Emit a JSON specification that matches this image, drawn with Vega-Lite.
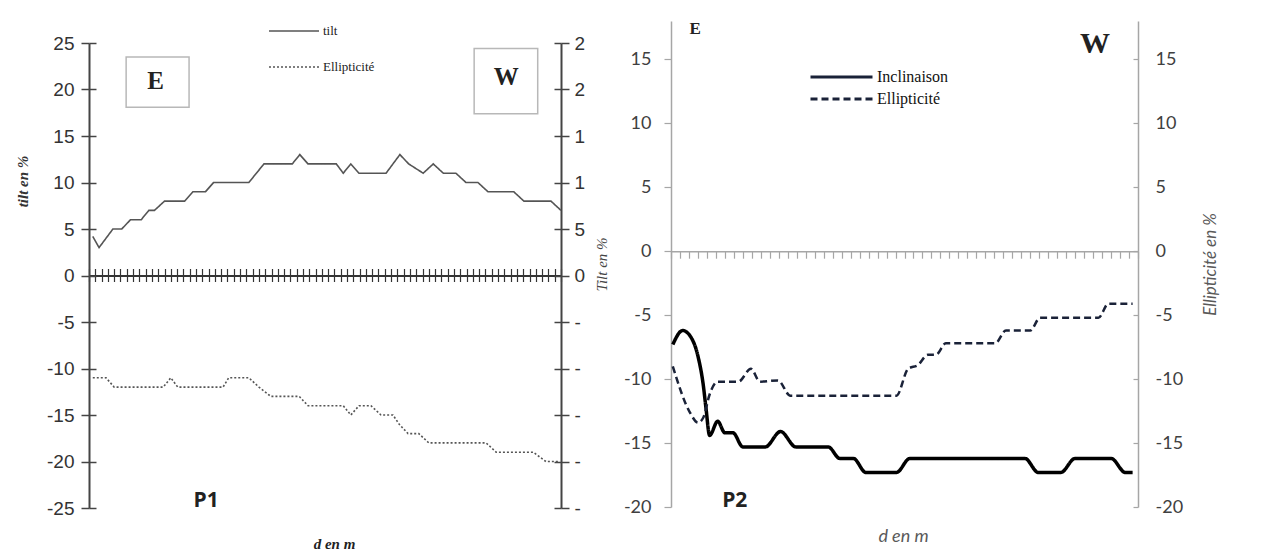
{
  "$schema": "https://vega.github.io/schema/vega-lite/v6.json",
  "background": "white",
  "padding": {"left": 15, "top": 19, "right": 5, "bottom": 5},
  "spacing": 110,
  "bounds": "flush",
  "datasets": {
    "p1tilt": [
      {"d": 0.6, "v": 4.2, "s": "tilt"}, {"d": 1.6, "v": 3, "s": "tilt"}, {"d": 3.8, "v": 5, "s": "tilt"}, {"d": 5.2, "v": 5, "s": "tilt"},
      {"d": 6.6, "v": 6, "s": "tilt"}, {"d": 8.3, "v": 6, "s": "tilt"}, {"d": 9.5, "v": 7, "s": "tilt"}, {"d": 10.4, "v": 7, "s": "tilt"},
      {"d": 12, "v": 8, "s": "tilt"}, {"d": 15.2, "v": 8, "s": "tilt"}, {"d": 16.5, "v": 9, "s": "tilt"}, {"d": 18.5, "v": 9, "s": "tilt"},
      {"d": 19.8, "v": 10, "s": "tilt"}, {"d": 25.4, "v": 10, "s": "tilt"}, {"d": 27.8, "v": 12, "s": "tilt"}, {"d": 32.3, "v": 12, "s": "tilt"},
      {"d": 33.5, "v": 13, "s": "tilt"}, {"d": 34.8, "v": 12, "s": "tilt"}, {"d": 39.3, "v": 12, "s": "tilt"}, {"d": 40.4, "v": 11, "s": "tilt"},
      {"d": 41.6, "v": 12, "s": "tilt"}, {"d": 42.9, "v": 11, "s": "tilt"}, {"d": 47.2, "v": 11, "s": "tilt"}, {"d": 49.4, "v": 13, "s": "tilt"},
      {"d": 50.8, "v": 12, "s": "tilt"}, {"d": 53.1, "v": 11, "s": "tilt"}, {"d": 54.7, "v": 12, "s": "tilt"}, {"d": 56.3, "v": 11, "s": "tilt"},
      {"d": 58.3, "v": 11, "s": "tilt"}, {"d": 59.9, "v": 10, "s": "tilt"}, {"d": 61.8, "v": 10, "s": "tilt"}, {"d": 63.4, "v": 9, "s": "tilt"},
      {"d": 67.5, "v": 9, "s": "tilt"}, {"d": 69.1, "v": 8, "s": "tilt"}, {"d": 73.4, "v": 8, "s": "tilt"}, {"d": 75, "v": 7, "s": "tilt"}
    ],
    "p1ell": [
      {"d": 0.6, "v": -11, "s": "Ellipticité"}, {"d": 2.7, "v": -11, "s": "Ellipticité"}, {"d": 4.0, "v": -12, "s": "Ellipticité"}, {"d": 11.8, "v": -12, "s": "Ellipticité"},
      {"d": 13.0, "v": -11, "s": "Ellipticité"}, {"d": 14.1, "v": -12, "s": "Ellipticité"}, {"d": 21.3, "v": -12, "s": "Ellipticité"}, {"d": 22.2, "v": -11, "s": "Ellipticité"},
      {"d": 25.4, "v": -11, "s": "Ellipticité"}, {"d": 27.0, "v": -12, "s": "Ellipticité"}, {"d": 28.9, "v": -13, "s": "Ellipticité"}, {"d": 33.4, "v": -13, "s": "Ellipticité"},
      {"d": 34.8, "v": -14, "s": "Ellipticité"}, {"d": 40.4, "v": -14, "s": "Ellipticité"}, {"d": 41.6, "v": -15, "s": "Ellipticité"}, {"d": 42.9, "v": -14, "s": "Ellipticité"},
      {"d": 44.8, "v": -14, "s": "Ellipticité"}, {"d": 46.4, "v": -15, "s": "Ellipticité"}, {"d": 48.3, "v": -15, "s": "Ellipticité"}, {"d": 49.3, "v": -16, "s": "Ellipticité"},
      {"d": 50.7, "v": -17, "s": "Ellipticité"}, {"d": 52.4, "v": -17, "s": "Ellipticité"}, {"d": 54.0, "v": -18, "s": "Ellipticité"}, {"d": 63.1, "v": -18, "s": "Ellipticité"},
      {"d": 64.7, "v": -19, "s": "Ellipticité"}, {"d": 70.6, "v": -19, "s": "Ellipticité"}, {"d": 72.6, "v": -20, "s": "Ellipticité"}, {"d": 74.7, "v": -20, "s": "Ellipticité"}
    ],
    "p1boxes": [
      {"x1": 5.9, "x2": 15.9, "y1": 23.5, "y2": 18.1},
      {"x1": 61.2, "x2": 71.3, "y1": 24.4, "y2": 17.4}
    ],
    "p1letters": [
      {"d": 10.6, "v": 20.9, "t": "E"},
      {"d": 66.3, "v": 21.3, "t": "W"}
    ],
    "p1label": [{"d": 18.6, "v": -24.2, "t": "P1"}],
    "p2inc": [
      {"d": 0.2, "v": -7.3, "s": "Inclinaison"}, {"d": 1.3, "v": -6.2, "s": "Inclinaison"}, {"d": 2.2, "v": -6.7, "s": "Inclinaison"}, {"d": 3.0, "v": -8.2, "s": "Inclinaison"},
      {"d": 3.6, "v": -10.5, "s": "Inclinaison"}, {"d": 3.9, "v": -12.3, "s": "Inclinaison"}, {"d": 4.3, "v": -14.4, "s": "Inclinaison"}, {"d": 5.2, "v": -13.3, "s": "Inclinaison"},
      {"d": 6.0, "v": -14.2, "s": "Inclinaison"}, {"d": 6.9, "v": -14.2, "s": "Inclinaison"}, {"d": 8.0, "v": -15.3, "s": "Inclinaison"}, {"d": 10.5, "v": -15.3, "s": "Inclinaison"},
      {"d": 12.2, "v": -14.1, "s": "Inclinaison"}, {"d": 13.9, "v": -15.3, "s": "Inclinaison"}, {"d": 17.5, "v": -15.3, "s": "Inclinaison"}, {"d": 18.8, "v": -16.2, "s": "Inclinaison"},
      {"d": 20.3, "v": -16.2, "s": "Inclinaison"}, {"d": 21.7, "v": -17.3, "s": "Inclinaison"}, {"d": 25.1, "v": -17.3, "s": "Inclinaison"}, {"d": 26.6, "v": -16.2, "s": "Inclinaison"},
      {"d": 39.4, "v": -16.2, "s": "Inclinaison"}, {"d": 40.9, "v": -17.3, "s": "Inclinaison"}, {"d": 43.4, "v": -17.3, "s": "Inclinaison"}, {"d": 45.0, "v": -16.2, "s": "Inclinaison"},
      {"d": 49.0, "v": -16.2, "s": "Inclinaison"}, {"d": 50.6, "v": -17.3, "s": "Inclinaison"}, {"d": 51.4, "v": -17.3, "s": "Inclinaison"}
    ],
    "p2ell": [
      {"d": 0.2, "v": -9.0, "s": "Ellipticité"}, {"d": 2.1, "v": -12.6, "s": "Ellipticité"}, {"d": 3.0, "v": -13.4, "s": "Ellipticité"}, {"d": 3.6, "v": -13.0, "s": "Ellipticité"},
      {"d": 4.3, "v": -11.2, "s": "Ellipticité"}, {"d": 5.2, "v": -10.2, "s": "Ellipticité"}, {"d": 7.5, "v": -10.2, "s": "Ellipticité"}, {"d": 8.9, "v": -9.2, "s": "Ellipticité"},
      {"d": 9.9, "v": -10.2, "s": "Ellipticité"}, {"d": 11.9, "v": -10.1, "s": "Ellipticité"}, {"d": 13.3, "v": -11.3, "s": "Ellipticité"}, {"d": 25.1, "v": -11.3, "s": "Ellipticité"},
      {"d": 26.4, "v": -9.2, "s": "Ellipticité"}, {"d": 27.5, "v": -8.9, "s": "Ellipticité"}, {"d": 28.6, "v": -8.1, "s": "Ellipticité"}, {"d": 29.5, "v": -8.1, "s": "Ellipticité"},
      {"d": 30.6, "v": -7.2, "s": "Ellipticité"}, {"d": 36.1, "v": -7.2, "s": "Ellipticité"}, {"d": 37.3, "v": -6.2, "s": "Ellipticité"}, {"d": 40.0, "v": -6.2, "s": "Ellipticité"},
      {"d": 41.1, "v": -5.2, "s": "Ellipticité"}, {"d": 47.6, "v": -5.2, "s": "Ellipticité"}, {"d": 48.7, "v": -4.1, "s": "Ellipticité"}, {"d": 51.4, "v": -4.1, "s": "Ellipticité"}
    ],
    "p2e": [{"d": 2.7, "v": 17.4, "t": "E"}],
    "p2w": [{"d": 47.2, "v": 16.2, "t": "W"}],
    "p2label": [{"d": 7.1, "v": -19.5, "t": "P2"}]
  },
  "hconcat": [
    {
      "width": 472,
      "height": 488,
      "resolve": {"axis": {"x": "independent", "y": "independent"}},
      "layer": [
        {
          "data": {"name": "p1tilt"},
          "mark": {"type": "line", "color": "#555555", "strokeWidth": 1.6},
          "encoding": {
            "x": {"field": "d", "type": "quantitative", "scale": {"domain": [0, 75], "nice": false, "zero": false},
              "axis": {"orient": "bottom", "offset": -233.5, "tickCount": 75, "labels": false, "tickSize": 6, "tickWidth": 1.2, "tickColor": "#333333", "domainColor": "#333333", "domainWidth": 2,
                "title": "d en m", "titleFont": "Liberation Serif", "titleFontStyle": "italic", "titleFontWeight": "bold", "titleFontSize": 15, "titleColor": "#222222",
                "titleX": 245, "titleY": 268, "titleAlign": "center", "titleBaseline": "middle", "titleAngle": 0}},
            "y": {"field": "v", "type": "quantitative", "scale": {"domain": [-25, 25], "range": [487, 22], "nice": false, "zero": false},
              "axis": {"orient": "left", "values": [-25, -20, -15, -10, -5, 0, 5, 10, 15, 20, 25], "tickSize": 8, "tickWidth": 1.5, "tickColor": "#444444", "domainColor": "#444444", "domainWidth": 2,
                "labelFont": "Liberation Sans", "labelFontSize": 19, "labelColor": "#333333", "labelPadding": 7, "labelExpr": "toString(datum.value)",
                "title": "tilt en %", "titleFont": "Liberation Serif", "titleFontSize": 15, "titleFontWeight": "bold", "titleFontStyle": "italic", "titleColor": "#333333",
                "titleX": -67, "titleY": 160, "titleAngle": 270, "titleAlign": "center", "titleBaseline": "middle"}},
            "strokeDash": {"field": "s", "type": "nominal", "scale": {"domain": ["tilt", "Ellipticité"], "range": [[1, 0], [2, 2]]},
              "legend": {"title": null, "orient": "none", "legendX": 179, "legendY": 0, "symbolType": "stroke", "symbolSize": 2500, "symbolStrokeWidth": 1.5, "symbolStrokeColor": "#555555",
                "clipHeight": 20, "rowPadding": 16, "labelFont": "Liberation Serif", "labelFontSize": 13, "labelColor": "#222222", "labelOffset": 3, "padding": 0}}
          }
        },
        {
          "data": {"name": "p1ell"},
          "mark": {"type": "line", "color": "#555555", "strokeWidth": 1.6},
          "encoding": {
            "x": {"field": "d", "type": "quantitative",
              "axis": {"orient": "top", "offset": -254.5, "tickCount": 75, "labels": false, "tickSize": 7, "tickWidth": 1.2, "tickColor": "#333333", "domainColor": "#333333", "domainWidth": 2, "title": null}},
            "y": {"field": "v", "type": "quantitative",
              "axis": {"orient": "right", "values": [-25, -20, -15, -10, -5, 0, 5, 10, 15, 20, 25], "tickSize": 8, "tickWidth": 1.5, "tickColor": "#444444", "domainColor": "#444444", "domainWidth": 2,
                "labelFont": "Liberation Sans", "labelFontSize": 19, "labelColor": "#333333", "labelPadding": 5,
                "labelExpr": "datum.value >= 10 ? slice(toString(datum.value), 0, 1) : (datum.value >= 0 ? toString(datum.value) : '-')",
                "title": "Tilt en %", "titleFont": "Liberation Serif", "titleFontSize": 15, "titleFontWeight": "normal", "titleFontStyle": "italic", "titleColor": "#444444",
                "titleX": 40, "titleY": 243, "titleAngle": 270, "titleAlign": "center", "titleBaseline": "middle"}},
            "strokeDash": {"field": "s", "type": "nominal"}
          }
        },
        {
          "data": {"name": "p1boxes"},
          "mark": {"type": "rect", "fill": "white", "stroke": "#b8b8b8", "strokeWidth": 1.5},
          "encoding": {
            "x": {"field": "x1", "type": "quantitative", "axis": null},
            "x2": {"field": "x2"},
            "y": {"field": "y1", "type": "quantitative",
              "axis": {"orient": "right", "offset": -472, "values": [-25, -20, -15, -10, -5, 0, 5, 10, 15, 20, 25], "tickSize": 7, "tickWidth": 1.5, "tickColor": "#444444", "domain": false, "labels": false, "title": null}},
            "y2": {"field": "y2"}
          }
        },
        {
          "data": {"name": "p1letters"},
          "mark": {"type": "text", "font": "Liberation Serif", "fontWeight": "bold", "fontSize": 25, "color": "#222222", "align": "center", "baseline": "middle"},
          "encoding": {
            "x": {"field": "d", "type": "quantitative", "axis": null},
            "y": {"field": "v", "type": "quantitative",
              "axis": {"orient": "left", "offset": -472, "values": [-25, -20, -15, -10, -5, 0, 5, 10, 15, 20, 25], "tickSize": 7, "tickWidth": 1.5, "tickColor": "#444444", "domain": false, "labels": false, "title": null}},
            "text": {"field": "t"}
          }
        },
        {
          "data": {"name": "p1label"},
          "mark": {"type": "text", "font": "Open Sans", "fontWeight": "bold", "fontSize": 21, "color": "#222222", "align": "center", "baseline": "middle"},
          "encoding": {
            "x": {"field": "d", "type": "quantitative", "axis": null},
            "y": {"field": "v", "type": "quantitative", "axis": null},
            "text": {"field": "t"}
          }
        }
      ]
    },
    {
      "width": 467,
      "height": 488,
      "resolve": {"axis": {"x": "independent", "y": "independent"}},
      "layer": [
        {
          "data": {"name": "p2inc"},
          "mark": {"type": "line", "color": "#000000", "strokeWidth": 3.5, "interpolate": "monotone"},
          "encoding": {
            "x": {"field": "d", "type": "quantitative", "scale": {"domain": [0, 52], "nice": false, "zero": false},
              "axis": {"orient": "bottom", "offset": -257.8, "tickCount": 52, "labels": false, "tickSize": 7, "tickWidth": 1.2, "tickColor": "#a6a6a6", "domainColor": "#a6a6a6", "domainWidth": 1.5,
                "title": "d en m", "titleFont": "Lato", "titleFontStyle": "italic", "titleFontWeight": "normal", "titleFontSize": 18, "titleColor": "#595959",
                "titleX": 232, "titleY": 285, "titleAlign": "center", "titleBaseline": "middle", "titleAngle": 0}},
            "y": {"field": "v", "type": "quantitative", "scale": {"domain": [-20, 18], "range": [486, 0], "nice": false, "zero": false},
              "axis": {"orient": "left", "values": [-20, -15, -10, -5, 0, 5, 10, 15], "tickSize": 7, "tickWidth": 1.2, "tickColor": "#a6a6a6", "domainColor": "#a6a6a6", "domainWidth": 1.5,
                "labelFont": "Lato", "labelFontSize": 18, "labelColor": "#404040", "labelPadding": 13, "labelExpr": "toString(datum.value)", "title": null}},
            "strokeDash": {"field": "s", "type": "nominal", "scale": {"domain": ["Inclinaison", "Ellipticité"], "range": [[1, 0], [7, 4]]},
              "legend": {"title": null, "orient": "none", "legendX": 138, "legendY": 48, "symbolType": "stroke", "symbolSize": 3844, "symbolStrokeColor": "#111111", "symbolStrokeWidth": 3,
                "clipHeight": 16, "rowPadding": 6, "labelFont": "Liberation Serif", "labelFontSize": 16, "labelColor": "#111111", "labelOffset": 3, "padding": 0}}
          }
        },
        {
          "data": {"name": "p2ell"},
          "mark": {"type": "line", "color": "#1a2238", "strokeWidth": 2.5, "interpolate": "monotone"},
          "encoding": {
            "x": {"field": "d", "type": "quantitative", "axis": null},
            "y": {"field": "v", "type": "quantitative",
              "axis": {"orient": "right", "values": [-20, -15, -10, -5, 0, 5, 10, 15], "tickSize": -5, "tickWidth": 1.2, "tickColor": "#a6a6a6", "domainColor": "#a6a6a6", "domainWidth": 1.5,
                "labelFont": "Lato", "labelFontSize": 18, "labelColor": "#404040", "labelPadding": 22, "labelExpr": "toString(datum.value)",
                "title": "Ellipticité en %", "titleFont": "Lato", "titleFontStyle": "italic", "titleFontWeight": "normal", "titleFontSize": 17, "titleColor": "#595959",
                "titleX": 72, "titleY": 243, "titleAngle": 270, "titleAlign": "center", "titleBaseline": "middle"}},
            "strokeDash": {"field": "s", "type": "nominal"}
          }
        },
        {
          "data": {"name": "p2e"},
          "mark": {"type": "text", "font": "Liberation Serif", "fontWeight": "bold", "fontSize": 17, "color": "#222222", "align": "center", "baseline": "middle"},
          "encoding": {
            "x": {"field": "d", "type": "quantitative", "axis": null},
            "y": {"field": "v", "type": "quantitative", "axis": null},
            "text": {"field": "t"}
          }
        },
        {
          "data": {"name": "p2w"},
          "mark": {"type": "text", "font": "Liberation Serif", "fontWeight": "bold", "fontSize": 30, "color": "#222222", "align": "center", "baseline": "middle"},
          "encoding": {
            "x": {"field": "d", "type": "quantitative", "axis": null},
            "y": {"field": "v", "type": "quantitative", "axis": null},
            "text": {"field": "t"}
          }
        },
        {
          "data": {"name": "p2label"},
          "mark": {"type": "text", "font": "Open Sans", "fontWeight": "bold", "fontSize": 21, "color": "#222222", "align": "center", "baseline": "middle"},
          "encoding": {
            "x": {"field": "d", "type": "quantitative", "axis": null},
            "y": {"field": "v", "type": "quantitative", "axis": null},
            "text": {"field": "t"}
          }
        }
      ]
    }
  ],
  "resolve": {"scale": {"strokeDash": "independent"}},
  "config": {
    "view": {"stroke": null},
    "axis": {"grid": false}
  }
}
